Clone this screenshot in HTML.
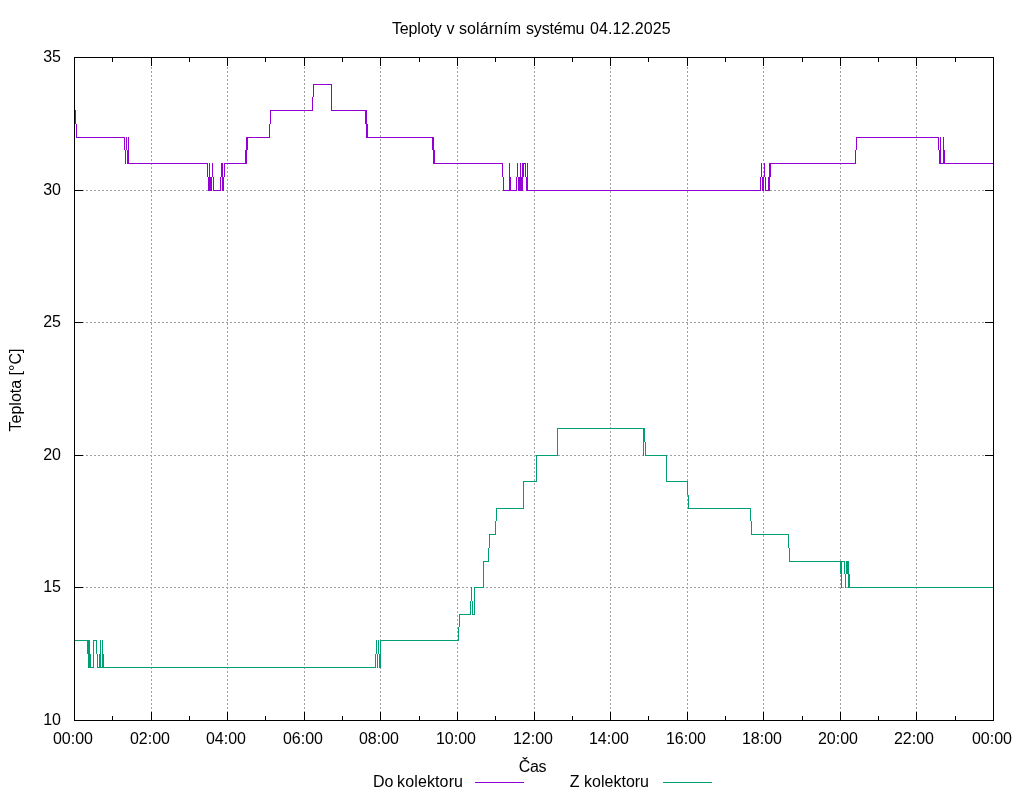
<!DOCTYPE html>
<html lang="cs"><head><meta charset="utf-8"><title>Teploty v solárním systému 04.12.2025</title>
<style>html,body{margin:0;padding:0;background:#fff;}svg{display:block;}text{font-family:"Liberation Sans", Arial, sans-serif;font-size:16px;fill:#000;}</style></head><body>
<svg width="1024" height="800" viewBox="0 0 1024 800">
<rect width="1024" height="800" fill="#fff"/>
<g stroke="#a0a0a0" stroke-width="1" stroke-dasharray="2,2" shape-rendering="crispEdges"><line x1="151.5" y1="721" x2="151.5" y2="57"/><line x1="227.5" y1="721" x2="227.5" y2="57"/><line x1="304.5" y1="721" x2="304.5" y2="57"/><line x1="380.5" y1="721" x2="380.5" y2="57"/><line x1="457.5" y1="721" x2="457.5" y2="57"/><line x1="534.5" y1="721" x2="534.5" y2="57"/><line x1="610.5" y1="721" x2="610.5" y2="57"/><line x1="687.5" y1="721" x2="687.5" y2="57"/><line x1="763.5" y1="721" x2="763.5" y2="57"/><line x1="840.5" y1="721" x2="840.5" y2="57"/><line x1="916.5" y1="721" x2="916.5" y2="57"/><line x1="74" y1="587.5" x2="994" y2="587.5"/><line x1="74" y1="455.5" x2="994" y2="455.5"/><line x1="74" y1="322.5" x2="994" y2="322.5"/><line x1="74" y1="190.5" x2="994" y2="190.5"/></g>
<path d="M74 712h1v9h-1zM74 57h1v9h-1zM112 716h1v5h-1zM112 57h1v5h-1zM151 712h1v9h-1zM151 57h1v9h-1zM189 716h1v5h-1zM189 57h1v5h-1zM227 712h1v9h-1zM227 57h1v9h-1zM265 716h1v5h-1zM265 57h1v5h-1zM304 712h1v9h-1zM304 57h1v9h-1zM342 716h1v5h-1zM342 57h1v5h-1zM380 712h1v9h-1zM380 57h1v9h-1zM419 716h1v5h-1zM419 57h1v5h-1zM457 712h1v9h-1zM457 57h1v9h-1zM495 716h1v5h-1zM495 57h1v5h-1zM534 712h1v9h-1zM534 57h1v9h-1zM572 716h1v5h-1zM572 57h1v5h-1zM610 712h1v9h-1zM610 57h1v9h-1zM648 716h1v5h-1zM648 57h1v5h-1zM687 712h1v9h-1zM687 57h1v9h-1zM725 716h1v5h-1zM725 57h1v5h-1zM763 712h1v9h-1zM763 57h1v9h-1zM802 716h1v5h-1zM802 57h1v5h-1zM840 712h1v9h-1zM840 57h1v9h-1zM878 716h1v5h-1zM878 57h1v5h-1zM916 712h1v9h-1zM916 57h1v9h-1zM955 716h1v5h-1zM955 57h1v5h-1zM993 712h1v9h-1zM993 57h1v9h-1zM74 720h9v1h-9zM985 720h9v1h-9zM74 587h9v1h-9zM985 587h9v1h-9zM74 455h9v1h-9zM985 455h9v1h-9zM74 322h9v1h-9zM985 322h9v1h-9zM74 190h9v1h-9zM985 190h9v1h-9zM74 57h9v1h-9zM985 57h9v1h-9z" fill="#000" shape-rendering="crispEdges"/>
<path d="M128 137h1v27h-1zM246 137h1v27h-1zM433 137h1v27h-1zM769 163h1v28h-1zM211 177h1v14h-1zM331 84h1v27h-1zM269 124h1v14h-1zM938 137h1v13h-1zM247 137h1v13h-1zM313 84h1v13h-1zM527 163h1v28h-1zM762 177h1v14h-1zM523 163h1v14h-1zM526 177h1v14h-1zM222 163h1v28h-1zM312 97h1v14h-1zM212 163h1v14h-1zM770 163h1v14h-1zM365 110h1v14h-1zM207 163h1v14h-1zM522 163h1v28h-1zM210 177h1v14h-1zM432 137h1v13h-1zM518 177h1v14h-1zM75 110h1v14h-1zM944 150h1v14h-1zM127 150h1v14h-1zM765 177h1v14h-1zM503 177h1v14h-1zM245 150h1v14h-1zM940 137h1v27h-1zM764 163h1v14h-1zM510 177h1v14h-1zM367 124h1v14h-1zM521 177h1v14h-1zM124 137h1v13h-1zM761 163h1v14h-1zM502 163h1v14h-1zM768 177h1v14h-1zM760 177h1v14h-1zM509 163h1v28h-1zM943 137h1v27h-1zM525 163h1v14h-1zM221 163h1v14h-1zM209 163h1v28h-1zM220 177h1v14h-1zM213 177h1v14h-1zM520 163h1v28h-1zM856 137h1v13h-1zM208 177h1v14h-1zM366 110h1v28h-1zM224 163h1v14h-1zM434 150h1v14h-1zM855 150h1v14h-1zM939 150h1v14h-1zM223 177h1v14h-1zM517 163h1v14h-1zM126 137h1v13h-1zM516 177h1v14h-1zM125 150h1v14h-1zM763 177h1v14h-1zM76 124h1v14h-1zM270 110h1v14h-1zM519 177h1v14h-1zM127 163h81v1h-81zM224 163h23v1h-23zM433 163h70v1h-70zM522 163h4v1h-4zM769 163h87v1h-87zM939 163h55v1h-55zM76 137h49v1h-49zM246 137h24v1h-24zM366 137h68v1h-68zM856 137h83v1h-83zM213 190h8v1h-8zM503 190h14v1h-14zM526 190h235v1h-235zM765 190h5v1h-5zM270 110h43v1h-43zM331 110h36v1h-36zM313 84h19v1h-19z" fill="#9400D3" shape-rendering="crispEdges"/>
<path d="M102 640h1v28h-1zM666 455h1v27h-1zM645 442h1v14h-1zM103 654h1v14h-1zM841 561h1v27h-1zM87 640h1v14h-1zM380 640h1v28h-1zM96 640h1v14h-1zM88 640h1v28h-1zM99 654h1v14h-1zM557 428h1v28h-1zM376 640h1v14h-1zM789 548h1v14h-1zM688 495h1v14h-1zM846 561h1v13h-1zM644 428h1v14h-1zM375 654h1v14h-1zM849 574h1v14h-1zM489 534h1v14h-1zM379 654h1v14h-1zM845 574h1v14h-1zM472 601h1v14h-1zM687 481h1v14h-1zM488 548h1v14h-1zM523 481h1v28h-1zM97 654h1v14h-1zM89 640h1v28h-1zM536 455h1v27h-1zM90 654h1v14h-1zM751 521h1v14h-1zM643 428h1v28h-1zM459 614h1v13h-1zM848 561h1v27h-1zM471 587h1v14h-1zM483 561h1v27h-1zM788 534h1v14h-1zM750 508h1v13h-1zM496 508h1v13h-1zM378 640h1v14h-1zM93 640h1v28h-1zM844 561h1v13h-1zM847 561h1v13h-1zM840 561h1v13h-1zM495 521h1v14h-1zM474 587h1v28h-1zM377 654h1v14h-1zM100 640h1v28h-1zM458 627h1v14h-1zM470 601h1v14h-1zM75 640h15v1h-15zM93 640h4v1h-4zM380 640h79v1h-79zM88 667h6v1h-6zM97 667h279v1h-279zM483 561h6v1h-6zM789 561h56v1h-56zM489 534h7v1h-7zM751 534h38v1h-38zM496 508h28v1h-28zM688 508h63v1h-63zM557 428h88v1h-88zM523 481h14v1h-14zM666 481h22v1h-22zM536 455h22v1h-22zM645 455h22v1h-22zM474 587h10v1h-10zM848 587h146v1h-146zM459 614h12v1h-12zM472 614h3v1h-3z" fill="#009E73" shape-rendering="crispEdges"/>
<rect x="74.5" y="57.5" width="919" height="663" fill="none" stroke="#000" stroke-width="1" shape-rendering="crispEdges"/>
<text x="61" y="724.5" text-anchor="end">10</text>
<text x="61" y="591.5" text-anchor="end">15</text>
<text x="61" y="459.5" text-anchor="end">20</text>
<text x="61" y="326.5" text-anchor="end">25</text>
<text x="61" y="194.5" text-anchor="end">30</text>
<text x="61" y="61.5" text-anchor="end">35</text>
<text x="73" y="744" text-anchor="middle">00:00</text>
<text x="150" y="744" text-anchor="middle">02:00</text>
<text x="226" y="744" text-anchor="middle">04:00</text>
<text x="303" y="744" text-anchor="middle">06:00</text>
<text x="379" y="744" text-anchor="middle">08:00</text>
<text x="456" y="744" text-anchor="middle">10:00</text>
<text x="533" y="744" text-anchor="middle">12:00</text>
<text x="609" y="744" text-anchor="middle">14:00</text>
<text x="686" y="744" text-anchor="middle">16:00</text>
<text x="762" y="744" text-anchor="middle">18:00</text>
<text x="838" y="744" text-anchor="middle">20:00</text>
<text x="914" y="744" text-anchor="middle">22:00</text>
<text x="992" y="744" text-anchor="middle">00:00</text>
<text y="34"><tspan x="392" letter-spacing="-0.17">Teploty </tspan><tspan x="446.5">v </tspan><tspan x="459" letter-spacing="0.1">solárním </tspan><tspan x="526" letter-spacing="-0.18">systému </tspan><tspan x="590" letter-spacing="0.05">04.12.2025</tspan></text>
<text x="532.4" y="772" text-anchor="middle" letter-spacing="-0.4">Čas</text>
<text transform="translate(21,390) rotate(-90)" text-anchor="middle">Teplota [°C]</text>
<text y="787"><tspan x="373">Do </tspan><tspan x="397.1" letter-spacing="0.12">kolektoru</tspan></text>
<line x1="475" y1="782.5" x2="524" y2="782.5" stroke="#9400D3" shape-rendering="crispEdges"/>
<text x="649" y="787" text-anchor="end">Z kolektoru</text>
<line x1="663" y1="782.5" x2="712" y2="782.5" stroke="#009E73" shape-rendering="crispEdges"/>
</svg></body></html>
